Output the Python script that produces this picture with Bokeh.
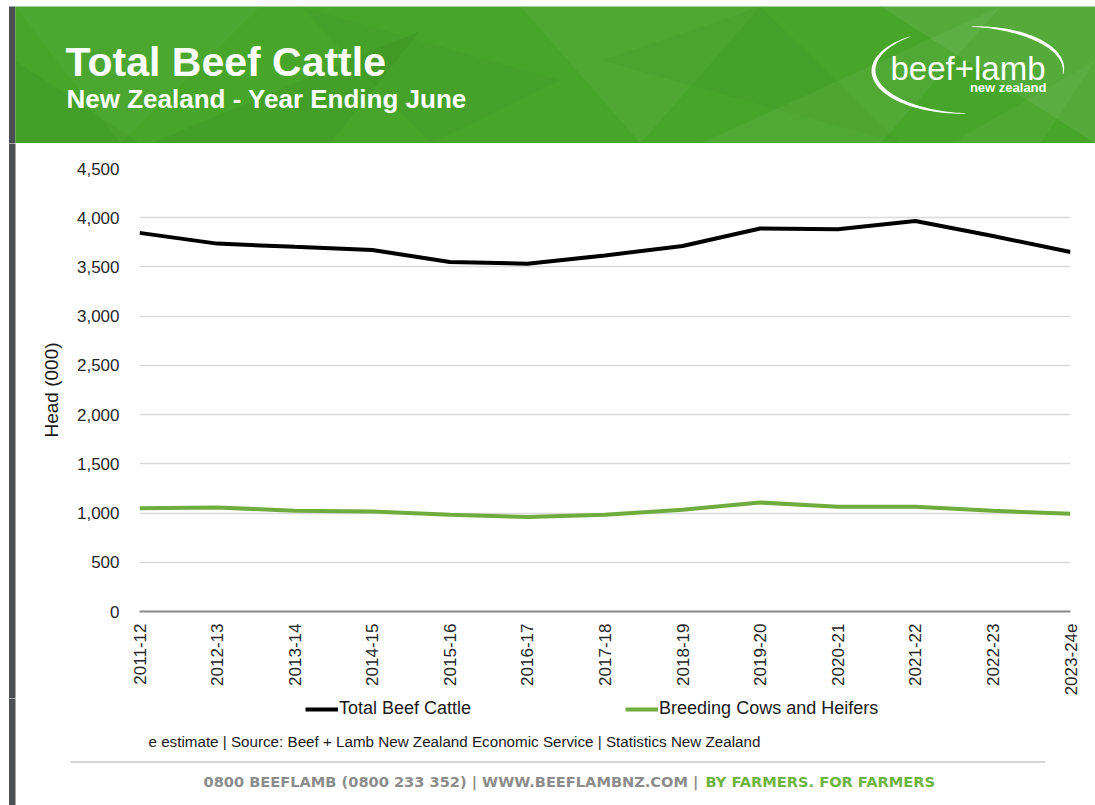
import numpy as np
from bokeh.plotting import figure
from bokeh.layouts import column, row
from bokeh.models import (Range1d, FixedTicker, NumeralTickFormatter, Legend, LegendItem)
from bokeh.core.properties import value
from bokeh.embed import file_html
from bokeh.resources import INLINE

# ---------------- data ----------------
categories = ["2011-12", "2012-13", "2013-14", "2014-15", "2015-16", "2016-17", "2017-18",
              "2018-19", "2019-20", "2020-21", "2021-22", "2022-23", "2023-24e"]
total_beef_cattle = [3846, 3737, 3704, 3672, 3551, 3533, 3617, 3713, 3890, 3884, 3966, 3814, 3652]
breeding_cows_heifers = [1050, 1057, 1023, 1016, 984, 960, 983, 1034, 1107, 1064, 1064, 1023, 993]
y_ticks = [0, 500, 1000, 1500, 2000, 2500, 3000, 3500, 4000, 4500]
series_names = ["Total Beef Cattle", "Breeding Cows and Heifers"]
series_colors = ["black", "#6fac3e"]

FONT = value("Liberation Sans")
GREEN_BANNER = "#47a52a"
STRIP = "#4b4e53"


def blank(fig):
    fig.axis.visible = False
    fig.grid.visible = False
    fig.outline_line_color = None
    fig.background_fill_color = "white"
    fig.border_fill_color = "white"
    return fig


# ---------------- header ----------------
h = blank(figure(width=1095, height=143, x_range=Range1d(0, 1095), y_range=Range1d(143, 0),
                 toolbar_location=None, output_backend="svg", min_border=0))
h.quad(left=[8.5], right=[15], top=[6], bottom=[150], color=STRIP, line_color=None)
h.quad(left=[15], right=[1095], top=[6], bottom=[143], color=GREEN_BANNER, line_color=None)

# subtle polygon texture
tex_x = [[15, 260, 120], [150, 420, 330], [520, 760, 640], [700, 1000, 880], [880, 1095, 1095],
         [300, 560, 430], [950, 1095, 1040], [600, 900, 760], [15, 140, 15]]
tex_y = [[6, 6, 143], [143, 30, 143], [6, 6, 143], [143, 6, 143], [6, 6, 143],
         [6, 80, 143], [143, 60, 143], [60, 143, 6], [60, 143, 143]]
tex_c = ["#ffffff", "#000000", "#ffffff", "#ffffff", "#ffffff", "#000000", "#ffffff", "#000000", "#000000"]
tex_a = [0.03, 0.03, 0.04, 0.05, 0.07, 0.025, 0.04, 0.025, 0.03]
h.patches(xs=tex_x, ys=tex_y, fill_color=tex_c, fill_alpha=tex_a, line_color=None)

h.text(x=[65], y=[61], text=["Total Beef Cattle"], text_font=FONT, text_font_style="bold",
       text_font_size="41px", text_color="white", text_baseline="middle")
h.text(x=[66], y=[98], text=["New Zealand - Year Ending June"], text_font=FONT,
       text_font_style="bold", text_font_size="26px", text_color="white",
       text_baseline="middle")


def crescent(cx, cy, a, b, t0, t1, w, n=80):
    t = np.radians(np.linspace(t0, t1, n))
    th = w * np.sin(np.pi * (t - t[0]) / (t[-1] - t[0])) + 0.6
    xo = cx + (a + th / 2) * np.cos(t)
    yo = cy - (b + th / 2) * np.sin(t)
    xi = cx + (a - th / 2) * np.cos(t)
    yi = cy - (b - th / 2) * np.sin(t)
    return list(np.concatenate([xo, xi[::-1]])), list(np.concatenate([yo, yi[::-1]]))


lx, ly = crescent(968, 70, 95, 43, 128, 268, 3.6)
rx, ry = crescent(968, 69, 95, 43, -6, 88, 3.0)
h.patches(xs=[lx, rx], ys=[ly, ry], fill_color="white", line_color=None)
h.text(x=[890], y=[68], text=["beef+lamb"], text_font=FONT, text_font_size="33px",
       text_color="white", text_baseline="middle")
h.text(x=[1046], y=[87], text=["new zealand"], text_font=FONT, text_font_style="bold",
       text_font_size="13px", text_color="white", text_baseline="middle", text_align="right")

# ---------------- left strips ----------------
def strip(height, y0):
    s = blank(figure(width=16, height=height, x_range=Range1d(0, 16), y_range=Range1d(y0 + height, y0),
                     toolbar_location=None, output_backend="svg", min_border=0))
    s.quad(left=[8.5], right=[15], top=[y0 - 6], bottom=[y0 + height + 6], color=STRIP, line_color=None)
    return s


s1 = strip(555, 143)
s2 = strip(107, 698)

# ---------------- main chart ----------------
x_idx = list(range(len(categories)))
p = figure(width=1079, height=555, x_range=Range1d(0, len(categories) - 1), y_range=Range1d(0, 4500),
           toolbar_location=None, output_backend="svg",
           min_border_left=123, min_border_right=25, min_border_top=25, min_border_bottom=84)
p.outline_line_color = None
p.background_fill_color = "white"
p.border_fill_color = "white"

p.xgrid.visible = False
p.ygrid.grid_line_color = "#d9d9d9"
p.ygrid.grid_line_width = 1.5
p.yaxis.ticker = FixedTicker(ticks=y_ticks)
p.yaxis.formatter = NumeralTickFormatter(format="0,0")
p.yaxis.axis_line_color = None
p.yaxis.major_tick_line_color = None
p.yaxis.minor_tick_line_color = None
p.yaxis.major_label_standoff = 14
p.yaxis.axis_label = "Head (000)"
p.yaxis.axis_label_standoff = 12
p.yaxis.axis_label_text_font = "Liberation Sans"
p.yaxis.axis_label_text_font_style = "normal"
p.yaxis.axis_label_text_font_size = "19px"
p.yaxis.axis_label_text_color = "#1a1a1a"

p.xaxis.ticker = FixedTicker(ticks=x_idx)
p.xaxis.major_label_overrides = {i: c for i, c in zip(x_idx, categories)}
p.xaxis.major_label_orientation = np.pi / 2
p.xaxis.axis_line_color = "#8a8a8a"
p.xaxis.axis_line_width = 2
p.xaxis.major_tick_line_color = None
p.xaxis.minor_tick_line_color = None
p.xaxis.major_label_standoff = 6

for ax in (p.xaxis, p.yaxis):
    ax.major_label_text_font = "Liberation Sans"
    ax.major_label_text_font_size = "17px"
    ax.major_label_text_color = "#262626"

p.line(x_idx, total_beef_cattle, line_color=series_colors[0], line_width=4)
p.line(x_idx, breeding_cows_heifers, line_color=series_colors[1], line_width=4)

# ---------------- footer (legend, notes) ----------------
f = blank(figure(width=1079, height=107, x_range=Range1d(16, 1095), y_range=Range1d(805, 698),
                 toolbar_location=None, output_backend="svg", min_border=0))
key_renderers = [f.line(x=[-200, -190], y=[700, 700], line_color=c, line_width=4) for c in series_colors]
legend = Legend(items=[LegendItem(label=n, renderers=[r]) for n, r in zip(series_names, key_renderers)],
                orientation="horizontal", location=(289, 86), padding=0, margin=0,
                spacing=154, glyph_width=33, glyph_height=18, label_height=18, label_standoff=1,
                label_text_font="Liberation Sans", label_text_font_size="18px",
                label_text_color="#1a1a1a", border_line_color=None, background_fill_alpha=0)
f.add_layout(legend, "center")

f.text(x=[148], y=[741], text=["e estimate | Source: Beef + Lamb New Zealand Economic Service | Statistics New Zealand"],
       text_font=FONT, text_font_size="15.2px", text_color="#1a1a1a", text_baseline="middle")
f.segment(x0=[70], x1=[1045], y0=[761.5], y1=[761.5], line_color="#d6d6d6", line_width=2)
f.text(x=[703], y=[781], text=["0800 BEEFLAMB (0800 233 352) | WWW.BEEFLAMBNZ.COM | "],
       text_font=value("DejaVu Sans"), text_font_style="bold", text_font_size="14.6px",
       text_color="#8c8c8c", text_baseline="middle", text_align="right")
f.text(x=[705], y=[781], text=["BY FARMERS. FOR FARMERS"],
       text_font=value("DejaVu Sans"), text_font_style="bold", text_font_size="14.6px",
       text_color="#6db33f", text_baseline="middle", text_align="left")

layout = column(h, row(s1, column(p, spacing=0), spacing=0), row(s2, column(f, spacing=0), spacing=0), spacing=0)
open("out.html", "w").write(file_html(layout, INLINE))
